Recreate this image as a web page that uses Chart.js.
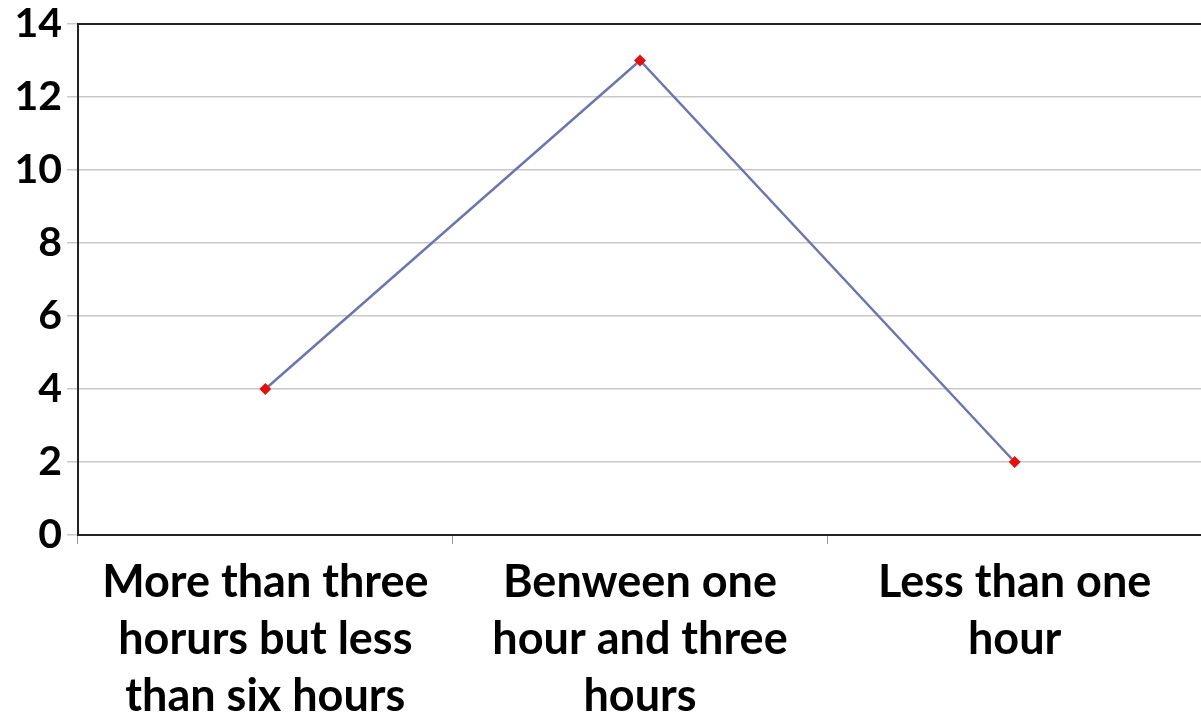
<!DOCTYPE html>
<html>
<head>
<meta charset="utf-8">
<script src="https://cdn.jsdelivr.net/npm/chart.js@4/dist/chart.umd.min.js"></script>
<style>
  html, body { margin: 0; padding: 0; background: #fff; overflow: hidden; }
  #chart { display: block; }
</style>
</head>
<body>
<canvas id="chart" width="1208" height="721"></canvas>
<script>
// categories and values
const categories = [
  ["More than three", "horurs but less", "than six hours"],
  ["Benween one", "hour and three", "hours"],
  ["Less than one", "hour"]
];
const values = [4, 13, 2];
const yTicks = [0, 2, 4, 6, 8, 10, 12, 14];

const font = { family: "Lato, 'Open Sans', sans-serif", weight: "bold" };

// black frame round the plot area
const frame = {
  id: "frame",
  afterDatasetsDraw(c) {
    const a = c.chartArea, g = c.ctx;
    g.save();
    g.strokeStyle = "#222";
    g.lineWidth = 2;
    g.strokeRect(a.left, a.top, a.right - a.left, a.bottom - a.top);
    g.restore();
  }
};

const ctx = document.getElementById("chart").getContext("2d");
new Chart(ctx, {
  type: "line",
  data: {
    labels: categories,
    datasets: [{
      data: values,
      borderColor: "#6a77ae",
      borderWidth: 2.5,
      tension: 0,
      pointStyle: "rectRot",
      pointRadius: 6,
      pointBackgroundColor: "#e31010",
      pointBorderColor: "#e31010",
      pointBorderWidth: 0
    }]
  },
  options: {
    responsive: false,
    animation: false,
    events: [],
    layout: { padding: { top: 24, right: 0, left: 0, bottom: 0 } },
    plugins: { legend: { display: false }, tooltip: { enabled: false } },
    scales: {
      x: {
        offset: true,
        grid: { drawOnChartArea: false, offset: true, tickLength: 9, color: "#999", lineWidth: 1 },
        border: { color: "#222", width: 2 },
        ticks: {
          color: "#000",
          font: { ...font, size: 45, lineHeight: 1.27 },
          padding: 10,
          maxRotation: 0,
          autoSkip: false
        },
        afterFit(s) { s.height = 186; }
      },
      y: {
        min: 0,
        max: 14,
        afterBuildTicks(s) { s.ticks = yTicks.map(v => ({ value: v })); },
        grid: { color: "#c8c8c8", lineWidth: 1.5, tickLength: 11 },
        border: { color: "#222", width: 2 },
        ticks: {
          color: "#000",
          font: { ...font, size: 41, lineHeight: 0.9 },
          padding: 5
        },
        afterFit(s) { s.width = 78; }
      }
    }
  },
  plugins: [frame]
});
</script>
</body>
</html>
